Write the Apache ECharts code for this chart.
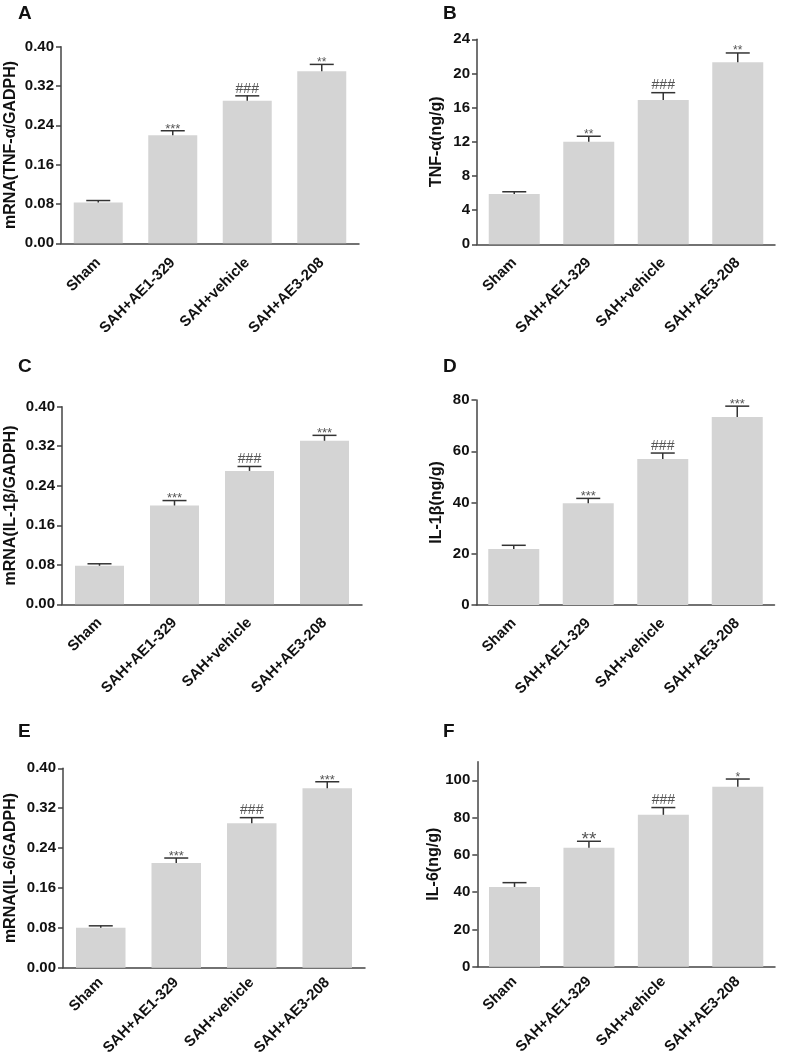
<!DOCTYPE html>
<html>
<head>
    <meta charset="utf-8">
    <script src="https://cdn.jsdelivr.net/npm/echarts@6/dist/echarts.min.js"></script>
    <style>
        html, body { margin: 0; padding: 0; background: #fff; }
        #chart { width: 787px; height: 1056px; }
    </style>
</head>
<body>
    <div id="chart"></div>
    <script>
        // groups on every x axis
        const categories = ['Sham', 'SAH+AE1-329', 'SAH+vehicle', 'SAH+AE3-208'];

        // A: mRNA TNF-a
        const meanA = [0.083, 0.220, 0.290, 0.350];
        const upperA = [0.087, 0.229, 0.300, 0.364];
        const sigA = ['', '***', '###', '**'];
        // B: TNF-a protein
        const meanB = [5.9, 12.0, 16.9, 21.3];
        const upperB = [6.15, 12.65, 17.75, 22.4];
        const sigB = ['', '**', '###', '**'];
        // C: mRNA IL-1b
        const meanC = [0.078, 0.200, 0.270, 0.331];
        const upperC = [0.082, 0.210, 0.279, 0.342];
        const sigC = ['', '***', '###', '***'];
        // D: IL-1b protein
        const meanD = [21.9, 39.7, 57.0, 73.4];
        const upperD = [23.3, 41.6, 59.3, 77.6];
        const sigD = ['', '***', '###', '***'];
        // E: mRNA IL-6
        const meanE = [0.080, 0.210, 0.290, 0.360];
        const upperE = [0.084, 0.220, 0.301, 0.373];
        const sigE = ['', '***', '###', '***'];
        // F: IL-6 protein
        const meanF = [42.8, 63.8, 81.5, 96.6];
        const upperF = [45.1, 67.3, 85.4, 100.7];
        const sigF = ['', '**', '###', '*'];

        const yTicksF = [0, 20, 40, 60, 80, 100];

        const font = '"Liberation Sans", Arial, sans-serif';

        const panels = [
            { letter: 'A', mean: meanA, upper: upperA, sig: sigA, name: 'mRNA(TNF-α/GADPH)', max: 0.4, interval: 0.08, dec: 2,
              grid: { left: 61, top: 46.7, width: 298, height: 196.6 }, barWidth: 49, nameGap: 42, labelMargin: 17, lx: 18, ly: 4 },
            { letter: 'B', mean: meanB, upper: upperB, sig: sigB, name: 'TNF-α(ng/g)', max: 24, interval: 4, dec: 0,
              grid: { left: 477, top: 39.3, width: 298, height: 205 }, barWidth: 51, nameGap: 32, labelMargin: 16, lx: 443, ly: 4 },
            { letter: 'C', mean: meanC, upper: upperC, sig: sigC, name: 'mRNA(IL-1β/GADPH)', max: 0.4, interval: 0.08, dec: 2,
              grid: { left: 62, top: 406.7, width: 300, height: 197.6 }, barWidth: 49, nameGap: 43, labelMargin: 16, lx: 18, ly: 357 },
            { letter: 'D', mean: meanD, upper: upperD, sig: sigD, name: 'IL-1β(ng/g)', max: 80, interval: 20, dec: 0,
              grid: { left: 476.5, top: 400, width: 298, height: 205 }, barWidth: 51, nameGap: 32, labelMargin: 16, lx: 443, ly: 357 },
            { letter: 'E', mean: meanE, upper: upperE, sig: sigE, name: 'mRNA(IL-6/GADPH)', max: 0.4, interval: 0.08, dec: 2,
              grid: { left: 63, top: 768.3, width: 302, height: 199.4 }, barWidth: 49.5, nameGap: 44, labelMargin: 12.5, lx: 18, ly: 722 },
            { letter: 'F', mean: meanF, upper: upperF, sig: sigF, name: 'IL-6(ng/g)', max: 110, interval: 20, dec: 0, ticks: yTicksF,
              grid: { left: 477.3, top: 761.7, width: 297.7, height: 205 }, barWidth: 51, nameGap: 32, labelMargin: 12.5, lx: 443, ly: 722 }
        ];

        // star / hash label sizes
        function sigSize(p, s) {
            if (p.letter === 'F' && s === '**') return 19;
            if (s === '###') return 14;
            if (s === '***') return 13;
            return 12;
        }

        const axisColor = '#444';
        const grids = [], xAxes = [], yAxes = [], series = [], graphics = [];

        panels.forEach((p, i) => {
            grids.push(Object.assign({ outerBoundsMode: 'none', containLabel: false }, p.grid));
            xAxes.push({
                type: 'category', gridIndex: i, data: categories,
                axisLine: { lineStyle: { color: axisColor, width: 1.5 } },
                axisTick: { alignWithLabel: true, length: 5, lineStyle: { color: axisColor, width: 1.5 } },
                axisLabel: { interval: 0, rotate: 45, margin: p.labelMargin, fontSize: 15, fontWeight: 'bold', color: '#111', fontFamily: font }
            });
            const y = {
                type: 'value', gridIndex: i, min: 0, max: p.max, interval: p.interval,
                name: p.name, nameLocation: 'middle', nameGap: p.nameGap,
                nameTextStyle: { fontSize: 16, fontWeight: 'bold', color: '#111', fontFamily: font },
                axisLine: { show: true, lineStyle: { color: axisColor, width: 1.5 } },
                axisTick: { show: true, length: 5, lineStyle: { color: axisColor, width: 1.5 } },
                axisLabel: { margin: 7, fontSize: 15, fontWeight: 'bold', color: '#111', fontFamily: font,
                             formatter: v => v.toFixed(p.dec) },
                splitLine: { show: false }
            };
            if (p.ticks) {
                y.axisTick.customValues = p.ticks;
                y.axisLabel.customValues = p.ticks;
            }
            yAxes.push(y);

            series.push({
                type: 'bar', xAxisIndex: i, yAxisIndex: i, data: p.mean,
                barWidth: p.barWidth, itemStyle: { color: '#d4d4d4' }, silent: true
            });
            series.push({
                type: 'custom', xAxisIndex: i, yAxisIndex: i,
                data: p.mean.map((m, j) => [j, m, p.upper[j]]),
                encode: { x: 0, y: [1, 2] },
                z: 5,
                renderItem: function (params, api) {
                    const j = api.value(0);
                    const base = api.coord([j, api.value(1)]);
                    const top = api.coord([j, api.value(2)]);
                    const s = p.sig[params.dataIndex];
                    const fs = sigSize(p, s);
                    const stroke = { stroke: '#333', lineWidth: 1.5 };
                    const children = [
                        { type: 'line', shape: { x1: top[0], y1: base[1], x2: top[0], y2: top[1] }, style: stroke },
                        { type: 'line', shape: { x1: top[0] - 12, y1: top[1], x2: top[0] + 12, y2: top[1] }, style: stroke }
                    ];
                    if (s) {
                        const baseline = s.indexOf('*') >= 0 ? top[1] - 3 + 0.4 * fs : top[1] - 3;
                        children.push({
                            type: 'text',
                            style: { text: s, x: top[0], y: baseline + 0.2 * fs, align: 'center', verticalAlign: 'bottom',
                                     fontSize: fs, fontFamily: font, fill: '#555' }
                        });
                    }
                    return { type: 'group', children: children };
                }
            });
            graphics.push({
                type: 'text', left: p.lx, top: p.ly,
                style: { text: p.letter, fontSize: 19, fontWeight: 'bold', fontFamily: font, fill: '#111' }
            });
        });

        const chart = echarts.init(document.getElementById('chart'), null, { renderer: 'canvas' });
        chart.setOption({
            animation: false,
            grid: grids,
            xAxis: xAxes,
            yAxis: yAxes,
            series: series,
            graphic: graphics
        });
    </script>
</body>
</html>
